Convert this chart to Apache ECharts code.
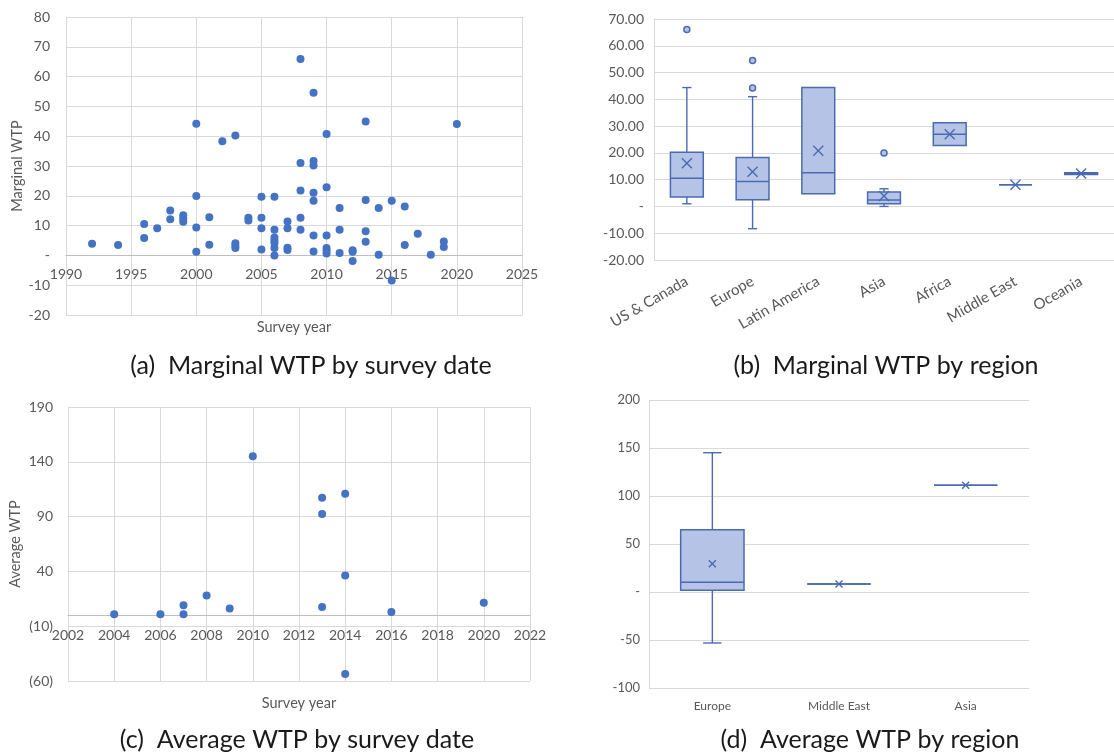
<!DOCTYPE html>
<html>
<head>
<meta charset="utf-8">
<title>WTP charts</title>
<script src="https://cdn.jsdelivr.net/npm/echarts@6/dist/echarts.min.js"></script>
<style>
  html, body { margin: 0; padding: 0; background: #fff; }
  #chart { width: 1114px; height: 755px; }
</style>
</head>
<body>
<div id="chart"></div>
<script>
"use strict";
// (a) marginal WTP by survey year
const yearsA = [1992, 1994, 1996, 1996, 1997, 1998, 1998, 1999, 1999, 1999,
    2000, 2000, 2000, 2000, 2001, 2001, 2002, 2003, 2003, 2003, 2003,
    2004, 2004, 2005, 2005, 2005, 2005,
    2006, 2006, 2006, 2006, 2006, 2006, 2006,
    2007, 2007, 2007, 2007, 2008, 2008, 2008, 2008, 2008,
    2009, 2009, 2009, 2009, 2009, 2009, 2009,
    2010, 2010, 2010, 2010, 2010, 2010, 2011, 2011, 2011,
    2012, 2012, 2012, 2013, 2013, 2013, 2013, 2014, 2014, 2015, 2015,
    2016, 2016, 2017, 2018, 2019, 2019, 2020];
const wtpA = [3.9, 3.5, 10.5, 5.8, 9.1, 15.1, 12.1, 13.5, 12.4, 11.3,
    44.2, 19.9, 9.4, 1.2, 12.8, 3.6, 38.3, 40.2, 4.1, 3.2, 2.5,
    12.6, 11.7, 19.7, 12.6, 9.1, 2.0,
    19.7, 8.6, 6.0, 5.0, 4.2, 2.5, 0,
    11.4, 9.1, 2.6, 1.8, 65.9, 31.0, 21.8, 12.6, 8.6,
    54.6, 31.7, 30.2, 21.0, 18.3, 6.7, 1.3,
    40.7, 22.9, 6.7, 2.5, 1.6, 0.6, 15.9, 8.6, 0.8,
    1.7, 1.2, -1.9, 44.9, 18.6, 8.1, 4.6, 15.9, 0.2, 18.3, -8.4,
    16.4, 3.5, 7.3, 0.2, 4.7, 2.8, 44.1];

// (b) marginal WTP by region
const regionsB = ['US & Canada', 'Europe', 'Latin America', 'Asia', 'Africa', 'Middle East', 'Oceania'];
const minB = [1.0, -8.3, 4.7, 0, 22.8, 8.1, 11.9];
const q1B = [3.5, 2.5, 4.7, 1.0, 22.8, 8.1, 11.9];
const medianB = [10.5, 9.3, 12.6, 2.4, 27.0, 8.1, 12.3];
const q3B = [20.2, 18.3, 44.4, 5.4, 31.3, 8.1, 12.6];
const maxB = [44.4, 41.0, 44.4, 6.6, 31.3, 8.1, 12.6];
const meanB = [16.1, 13.0, 20.8, 3.9, 27.0, 8.1, 12.3];
const outlierRegionB = ['US & Canada', 'Europe', 'Europe', 'Asia'];
const outlierValueB = [66.1, 54.5, 44.2, 20.0];

// (c) average WTP by survey year
const yearsC = [2004, 2006, 2007, 2007, 2008, 2009, 2010, 2013, 2013, 2013, 2014, 2014, 2014, 2016, 2020];
const wtpC = [1, 1, 9.1, 1, 18.0, 6.1, 145, 107.2, 92.3, 7.6, 110.8, 36.2, -53.6, 3.0, 11.3];

// (d) average WTP by region
const regionsD = ['Europe', 'Middle East', 'Asia'];
const minD = [-53.1, 8.3, 111.1];
const q1D = [1.7, 8.3, 111.1];
const medianD = [10.1, 8.3, 111.1];
const q3D = [64.9, 8.3, 111.1];
const maxD = [145.1, 8.3, 111.1];
const meanD = [29.5, 8.3, 111.1];

const FONT = 'Lato, "Open Sans", sans-serif';
const LABEL = '#595959';
const GRIDLINE = '#D9D9D9';
const DOT = '#4472C4';
const BOX_LINE = '#4A6BB0';
const BOX_FILL = '#B4C3E6';

const chart = echarts.init(document.getElementById('chart'));

function zipPoints(xs, ys) {
    return xs.map((x, i) => [x, ys[i]]);
}
function boxData(cats, mins, q1s, meds, q3s, maxs, means) {
    return cats.map((c, i) => [c, mins[i], q1s[i], meds[i], q3s[i], maxs[i], means[i]]);
}
function dash(v) {
    return v === 0 ? '-' : String(v);
}

// box, whiskers with short caps, median and an X for the mean
function boxRenderer(boxRatio, capRatio, cross) {
    return function (params, api) {
        const cat = api.value(0);
        const w = api.size([1, 0])[0] * boxRatio;
        const cap = w * capRatio;
        const pMin = api.coord([cat, api.value(1)]);
        const pQ1 = api.coord([cat, api.value(2)]);
        const pMed = api.coord([cat, api.value(3)]);
        const pQ3 = api.coord([cat, api.value(4)]);
        const pMax = api.coord([cat, api.value(5)]);
        const pMean = api.coord([cat, api.value(6)]);
        const x = pMed[0];
        const line = { stroke: BOX_LINE, lineWidth: 1.4 };
        const kids = [];
        if (pMin[1] - pQ1[1] > 0.5) {
            kids.push({ type: 'line', shape: { x1: x, y1: pQ1[1], x2: x, y2: pMin[1] }, style: line });
            kids.push({ type: 'line', shape: { x1: x - cap / 2, y1: pMin[1], x2: x + cap / 2, y2: pMin[1] }, style: line });
        }
        if (pQ3[1] - pMax[1] > 0.5) {
            kids.push({ type: 'line', shape: { x1: x, y1: pQ3[1], x2: x, y2: pMax[1] }, style: line });
            kids.push({ type: 'line', shape: { x1: x - cap / 2, y1: pMax[1], x2: x + cap / 2, y2: pMax[1] }, style: line });
        }
        kids.push({
            type: 'rect',
            shape: { x: x - w / 2, y: pQ3[1], width: w, height: pQ1[1] - pQ3[1] },
            style: { fill: BOX_FILL, stroke: BOX_LINE, lineWidth: 1.5 }
        });
        kids.push({ type: 'line', shape: { x1: x - w / 2, y1: pMed[1], x2: x + w / 2, y2: pMed[1] }, style: { stroke: BOX_LINE, lineWidth: 1.5 } });
        const c = cross / 2;
        kids.push({ type: 'line', shape: { x1: pMean[0] - c, y1: pMean[1] - c, x2: pMean[0] + c, y2: pMean[1] + c }, style: line });
        kids.push({ type: 'line', shape: { x1: pMean[0] - c, y1: pMean[1] + c, x2: pMean[0] + c, y2: pMean[1] - c }, style: line });
        return { type: 'group', children: kids };
    };
}

function caption(text, x, y) {
    return {
        type: 'text', x: x, y: y,
        style: { text: text, fontSize: 25, fontFamily: FONT, fill: '#1a1a1a', align: 'center', verticalAlign: 'middle' }
    };
}

const labelStyle = { color: LABEL, fontFamily: FONT, fontSize: 13 };
const nameStyle = { color: LABEL, fontFamily: FONT, fontSize: 14.5 };

const option = {
    animation: false,
    backgroundColor: '#fff',
    grid: [
        { left: 66, top: 17, width: 456, height: 298 },
        { left: 654, top: 19, width: 469, height: 241 },
        { left: 68, top: 407, width: 462, height: 274 },
        { left: 649, top: 400, width: 380, height: 288 }
    ],
    xAxis: [
        {
            gridIndex: 0, type: 'value', min: 1990, max: 2025, interval: 5,
            name: 'Survey year', nameLocation: 'middle', nameGap: 5, nameMoveOverlap: false,
            nameTextStyle: nameStyle,
            axisLine: { onZero: true, lineStyle: { color: '#BFBFBF' } },
            axisTick: { show: false },
            axisLabel: Object.assign({ margin: -48, formatter: v => String(v) }, labelStyle, { fontSize: 14 }),
            splitLine: { show: true, lineStyle: { color: GRIDLINE } }
        },
        {
            gridIndex: 1, type: 'category', data: regionsB,
            axisLine: { show: false, onZero: false },
            axisTick: { show: false },
            axisLabel: Object.assign({ interval: 0, rotate: 30, margin: 20 }, labelStyle, { fontSize: 15 }),
            splitLine: { show: false }
        },
        {
            gridIndex: 2, type: 'value', min: 2002, max: 2022, interval: 2,
            name: 'Survey year', nameLocation: 'middle', nameGap: 15, nameMoveOverlap: false,
            nameTextStyle: nameStyle,
            axisLine: { onZero: true, lineStyle: { color: '#BFBFBF' } },
            axisTick: { show: false },
            axisLabel: Object.assign({ margin: -53, formatter: v => String(v) }, labelStyle, { fontSize: 14 }),
            splitLine: { show: true, lineStyle: { color: GRIDLINE } }
        },
        {
            gridIndex: 3, type: 'category', data: regionsD,
            axisLine: { show: false, onZero: false },
            axisTick: { show: false },
            axisLabel: Object.assign({ margin: 12 }, labelStyle, { fontSize: 12 }),
            splitLine: { show: false }
        }
    ],
    yAxis: [
        {
            gridIndex: 0, type: 'value', min: -20, max: 80, interval: 10,
            name: 'Marginal WTP', nameLocation: 'middle', nameGap: 40, nameTextStyle: nameStyle,
            axisLine: { show: false },
            axisTick: { show: false },
            axisLabel: Object.assign({ margin: 16, formatter: dash }, labelStyle, { fontSize: 14 }),
            splitLine: { lineStyle: { color: GRIDLINE } }
        },
        {
            gridIndex: 1, type: 'value', min: -20, max: 70, interval: 10,
            axisLine: { show: true, lineStyle: { color: GRIDLINE } },
            axisTick: { show: false },
            axisLabel: Object.assign({
                margin: 10,
                formatter: v => v === 0 ? '-' : v.toFixed(2)
            }, labelStyle, { fontSize: 14 }),
            splitLine: { lineStyle: { color: GRIDLINE } }
        },
        {
            gridIndex: 2, type: 'value', min: -60, max: 190, interval: 50,
            name: 'Average WTP', nameLocation: 'middle', nameGap: 45, nameTextStyle: nameStyle,
            axisLine: { show: false },
            axisTick: { show: false },
            axisLabel: Object.assign({
                margin: 15,
                formatter: v => v < 0 ? '(' + (-v) + ')' : String(v)
            }, labelStyle, { fontSize: 14 }),
            splitLine: { lineStyle: { color: GRIDLINE } }
        },
        {
            gridIndex: 3, type: 'value', min: -100, max: 200, interval: 50,
            axisLine: { show: true, lineStyle: { color: GRIDLINE } },
            axisTick: { show: false },
            axisLabel: Object.assign({ margin: 9, formatter: dash }, labelStyle),
            splitLine: { lineStyle: { color: GRIDLINE } }
        }
    ],
    series: [
        {
            type: 'scatter', xAxisIndex: 0, yAxisIndex: 0,
            symbolSize: 8, itemStyle: { color: DOT, opacity: 1 },
            data: zipPoints(yearsA, wtpA)
        },
        {
            type: 'custom', xAxisIndex: 1, yAxisIndex: 1,
            renderItem: boxRenderer(0.5, 0.28, 10),
            encode: { x: 0, y: [1, 2, 3, 4, 5, 6] },
            data: boxData(regionsB, minB, q1B, medianB, q3B, maxB, meanB)
        },
        {
            type: 'scatter', xAxisIndex: 1, yAxisIndex: 1,
            symbolSize: 6,
            itemStyle: { color: BOX_FILL, borderColor: BOX_LINE, borderWidth: 1.5, opacity: 1 },
            data: zipPoints(outlierRegionB, outlierValueB)
        },
        {
            type: 'scatter', xAxisIndex: 2, yAxisIndex: 2,
            symbolSize: 8, itemStyle: { color: DOT, opacity: 1 },
            data: zipPoints(yearsC, wtpC)
        },
        {
            type: 'custom', xAxisIndex: 3, yAxisIndex: 3,
            renderItem: boxRenderer(0.5, 0.29, 7),
            encode: { x: 0, y: [1, 2, 3, 4, 5, 6] },
            data: boxData(regionsD, minD, q1D, medianD, q3D, maxD, meanD)
        }
    ],
    graphic: [
        caption('(a)  Marginal WTP by survey date', 311, 366),
        caption('(b)  Marginal WTP by region', 886, 366),
        caption('(c)  Average WTP by survey date', 297, 740),
        caption('(d)  Average WTP by region', 870, 740)
    ]
};
chart.setOption(option);
</script>
</body>
</html>
